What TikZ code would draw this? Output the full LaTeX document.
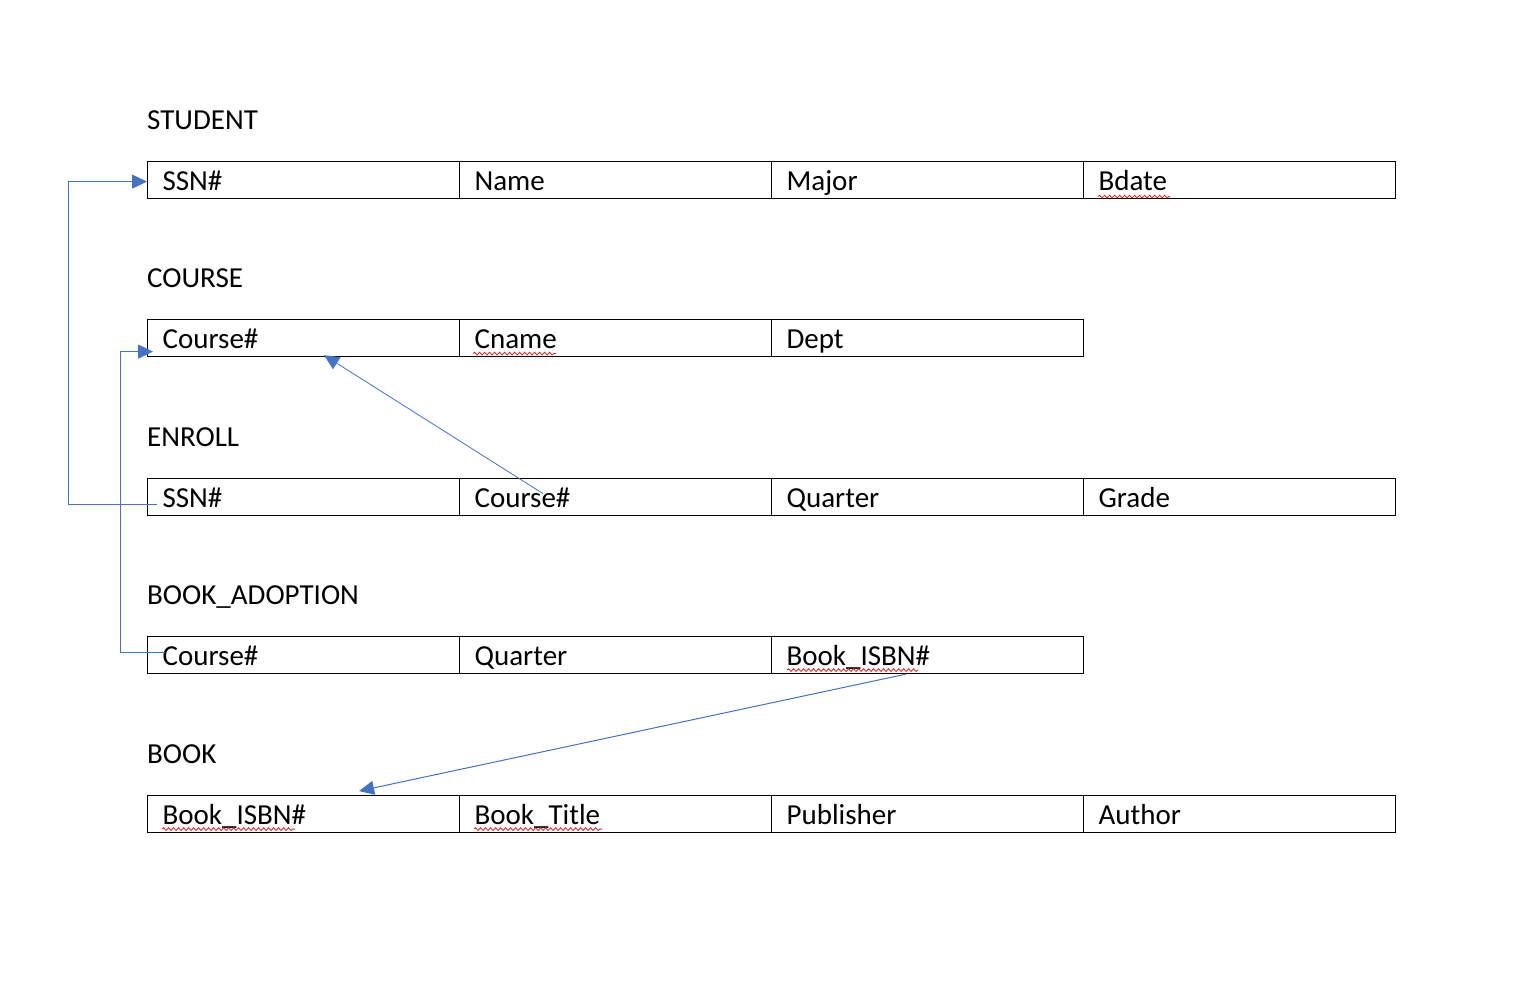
\documentclass[tikz,border=0pt]{standalone}
\usepackage{fontspec}
\setmainfont{Carlito}
\usetikzlibrary{arrows.meta,decorations.pathmorphing}
\definecolor{linkblue}{HTML}{4472C4}
\definecolor{spellred}{HTML}{E02020}
\tikzset{
  cell/.style={draw=black, line width=1.2pt, anchor=north west, minimum height=37pt,
    text width=282pt, inner xsep=15pt, inner ysep=0pt, align=left,
    text height=24pt, text depth=3pt,
    font=\fontsize{29}{33}\selectfont},
  tlabel/.style={anchor=base west, inner sep=0pt, font=\fontsize{29}{33}\selectfont},
  conn/.style={draw=linkblue, line width=1pt},
  headed/.style={conn, -{Triangle[length=15pt,width=14pt]}},
  squiggle/.style={draw=spellred, line width=0.8pt,
    decorate, decoration={snake, amplitude=1.4pt, segment length=5pt}}
}
\begin{document}
\begin{tikzpicture}[x=1pt,y=-1pt]
\useasboundingbox (0,0) rectangle (1538,1004);
\fill[white] (0,0) rectangle (1538,1004);

% STUDENT
\node[tlabel] (lst) at (147,129) {STUDENT};
\node[cell] (s1) at (147,161) {SSN\#};
\node[cell] (s2) at (459,161) {Name};
\node[cell] (s3) at (771,161) {Major};
\node[cell] (s4) at (1083,161) {Bdate};

% COURSE
\node[tlabel] (lco) at (147,287) {COURSE};
\node[cell] (c1) at (147,319) {Course\#};
\node[cell] (c2) at (459,319) {Cname};
\node[cell] (c3) at (771,319) {Dept};

% ENROLL
\node[tlabel] (len) at (147,446) {ENROLL};
\node[cell] (e1) at (147,478) {SSN\#};
\node[cell] (e2) at (459,478) {Course\#};
\node[cell] (e3) at (771,478) {Quarter};
\node[cell] (e4) at (1083,478) {Grade};

% BOOK_ADOPTION
\node[tlabel] (lba) at (147,604) {BOOK\_ADOPTION};
\node[cell] (a1) at (147,636) {Course\#};
\node[cell] (a2) at (459,636) {Quarter};
\node[cell] (a3) at (771,636) {Book\_ISBN\#};

% BOOK
\node[tlabel] (lbo) at (147,763) {BOOK};
\node[cell] (b1) at (147,795) {Book\_ISBN\#};
\node[cell] (b2) at (459,795) {Book\_Title};
\node[cell] (b3) at (771,795) {Publisher};
\node[cell] (b4) at (1083,795) {Author};

% spell-check underlines
\draw[squiggle] ([xshift=15pt,yshift=-16.5pt]s4.west) -- ++(72,0);
\draw[squiggle] ([xshift=14pt,yshift=-15.5pt]c2.west) -- ++(83,0);
\draw[squiggle] ([xshift=16pt,yshift=-15pt]a3.west) -- ++(131,0);
\draw[squiggle] ([xshift=15pt,yshift=-15pt]b1.west) -- ++(133,0);
\draw[squiggle] ([xshift=15pt,yshift=-15pt]b2.west) -- ++(128,0);

% connectors
\draw[headed] ([xshift=10pt,yshift=-7.5pt]e1.west) -- ++(-89,0) |- ([yshift=-1.5pt]s1.west);
\draw[headed] ([xshift=18pt,yshift=2.5pt]a1.west) -- ++(-45,0) |- ([xshift=6pt,yshift=-13.5pt]c1.west);
\draw[headed, line width=0.8pt] ([xshift=84pt,yshift=3.5pt]e2.west) -- ([xshift=20.5pt,yshift=2pt]c1.south);
\draw[headed] ([xshift=-22pt]a3.south) -- ([xshift=55.5pt,yshift=4pt]b1.north);
\end{tikzpicture}
\end{document}
